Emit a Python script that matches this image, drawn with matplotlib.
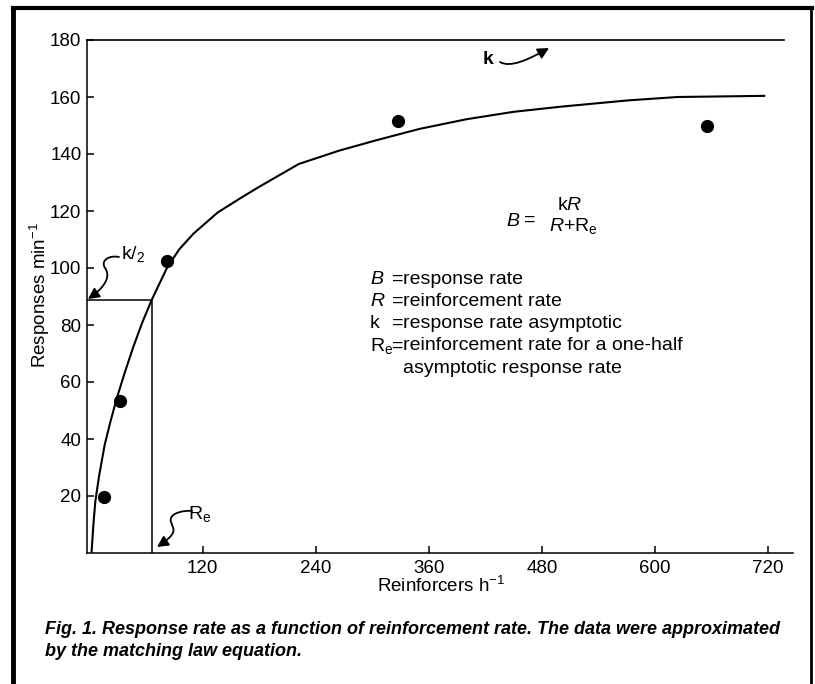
import matplotlib
matplotlib.use('Agg')
import matplotlib.pyplot as plt
from matplotlib.lines import Line2D
from matplotlib.patches import FancyArrowPatch
from matplotlib.path import Path

plt.rcParams['font.family'] = ['Liberation Sans', 'DejaVu Sans']
plt.rcParams['mathtext.fontset'] = 'custom'
plt.rcParams['mathtext.rm'] = 'Liberation Sans'
plt.rcParams['mathtext.it'] = 'Liberation Sans:italic'
plt.rcParams['mathtext.bf'] = 'Liberation Sans:bold'

rate_obs = [15, 32, 82, 327, 655]
resp_obs = [19.5, 53.5, 102.5, 151.5, 150]

# curva ajustada
curve_rate = [2, 4, 6, 10, 16, 22, 29, 37, 46, 56, 66, 82, 95, 110, 136,
              160, 180, 222, 265, 304, 350, 400, 450, 500, 571, 624, 716]
curve_resp = [0, 10, 18, 27, 38, 46, 54.5, 63, 72, 81, 88.9, 100, 106.5,
              112, 119.5, 124.5, 128.5, 136.5, 141.2, 144.8, 148.8, 152.2,
              154.8, 156.6, 158.8, 160, 160.4]

k_value = 180
k_end = 737
k_half = 88.9
re_value = 66.5

x_ticks = [120, 240, 360, 480, 600, 720]
y_ticks = [20, 40, 60, 80, 100, 120, 140, 160, 180]

def_symbols = [r'$\mathit{B}$', r'$\mathit{R}$', 'k', r'R$_\mathrm{e}$', '']
def_texts = ['response rate', 'reinforcement rate', 'response rate asymptotic',
             'reinforcement rate for a one-half', 'asymptotic response rate']

caption = ['Fig. 1. Response rate as a function of reinforcement rate. The data were approximated',
           'by the matching law equation.']

W, H = 815, 684


def px(x, y):
    """converte pixel (origem no topo) para fração da figura"""
    return (x / W, 1 - y / H)


def squiggle(fig, pts):
    verts = [px(*p) for p in pts]
    codes = [Path.MOVETO] + [Path.CURVE4] * (len(verts) - 1)
    arr = FancyArrowPatch(path=Path(verts, codes),
                          arrowstyle='-|>,head_length=0.55,head_width=0.28',
                          mutation_scale=12, lw=1.3, color='black',
                          transform=fig.transFigure)
    fig.add_artist(arr)


fig = plt.figure(figsize=(W / 100, H / 100), dpi=100)
ax = fig.add_axes([87 / W, 1 - 553 / H, (793 - 87) / W, (553 - 40) / H])

ax.plot(curve_rate, curve_resp, color='black', lw=1.5)
ax.plot(rate_obs, resp_obs, 'o', color='black', ms=8.5)
ax.plot([-3, k_end], [k_value, k_value], color='black', lw=1.2, clip_on=False)
ax.plot([-3, re_value, re_value], [k_half, k_half, 0], color='black', lw=1.1)

ax.set_xlim(-2.8, 746.5)
ax.set_ylim(0, 180)
ax.set_xticks(x_ticks)
ax.set_yticks(y_ticks)
ax.spines['top'].set_visible(False)
ax.spines['right'].set_visible(False)
for s in ['left', 'bottom']:
    ax.spines[s].set_linewidth(1.1)
ax.tick_params(direction='in', length=5, width=1.1, labelsize=13.5)
ax.tick_params(axis='y', pad=4)
ax.tick_params(axis='x', pad=5)

fig.text(*px(40, 295), 'Responses min$^{-1}$', rotation=90, ha='center',
         va='center', fontsize=13.5)
fig.text(*px(441, 586), 'Reinforcers h$^{-1}$', ha='center', va='center',
         fontsize=13.5)

# anotações k, k/2 e Re
fig.text(*px(488, 60), 'k', ha='center', va='center', fontsize=14, weight='bold')
squiggle(fig, [(500, 62), (510, 68), (528, 60), (549, 48)])
fig.text(*px(133, 254), 'k/$_2$', ha='center', va='center', fontsize=14)
squiggle(fig, [(119, 257), (110, 255), (100, 260), (105, 268),
               (110, 275), (108, 285), (88, 299)])
fig.text(*px(200, 514), r'R$_\mathrm{e}$', ha='center', va='center', fontsize=14)
squiggle(fig, [(192, 511), (182, 510), (168, 514), (171, 522),
               (174, 530), (178, 533), (157, 547)])

# equação
fig.text(*px(513, 222), r'$\mathit{B}$', ha='center', va='center', fontsize=14)
fig.text(*px(530, 220), '=', ha='center', va='center', fontsize=14)
fig.text(*px(570, 206), r'k$\mathit{R}$', ha='center', va='center', fontsize=14)
fig.text(*px(573, 226), r'$\mathit{R}$+R$_\mathrm{e}$', ha='center',
         va='center', fontsize=14)

# legenda das variáveis
for i, (sym, txt) in enumerate(zip(def_symbols, def_texts)):
    y = 279 + i * 22.3
    if sym:
        fig.text(*px(370, y), sym, ha='left', va='center', fontsize=14)
        fig.text(*px(392, y), '=', ha='left', va='center', fontsize=14)
    fig.text(*px(403, y), txt, ha='left', va='center', fontsize=14)

for i, line in enumerate(caption):
    fig.text(*px(45, 630 + i * 22), line, ha='left', va='center',
             fontsize=13, style='italic', weight='bold')

# moldura
fig.add_artist(Line2D([13 / W, 13 / W], [0, 1 - 8 / H], color='black', lw=3.5,
                      transform=fig.transFigure))
fig.add_artist(Line2D([13 / W, 812 / W], [1 - 8 / H, 1 - 8 / H], color='black',
                      lw=3, transform=fig.transFigure))
fig.add_artist(Line2D([811 / W, 811 / W], [0, 1 - 8 / H], color='black', lw=2,
                      transform=fig.transFigure))

fig.savefig('out.png', dpi=100)
